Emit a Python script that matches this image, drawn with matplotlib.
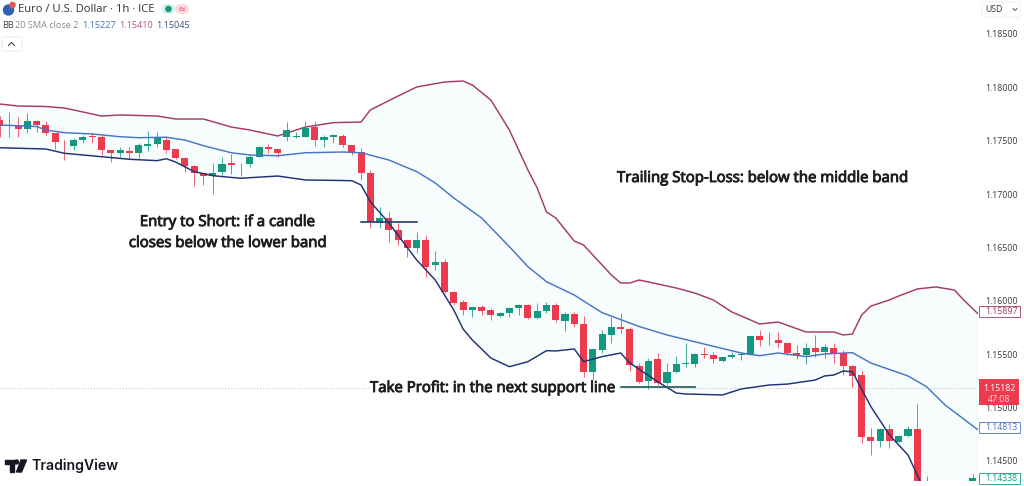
import numpy as np
import matplotlib
matplotlib.use("Agg")
import matplotlib.pyplot as plt
import matplotlib.patheffects as pe
from matplotlib.patches import Circle, FancyBboxPatch, Polygon, Rectangle

# EUR/USD 1h candles, one entry per bar, nan where the bar is off the chart
opens = [1.17694, 1.17647, 1.17635, 1.17612, 1.17687, 1.17644, 1.17569, 1.17462, 1.17453, 1.17504,
         1.17544, 1.17532, 1.17413, 1.17382, 1.17406, 1.17387, 1.17453, 1.17469, 1.17509, 1.17419,
         1.17335, 1.17266, 1.17200, 1.17172, 1.17204, 1.17288, 1.17279, 1.17279, 1.17350, 1.17441,
         1.17425, 1.17532, 1.17535, 1.17537, 1.17625, 1.17509, 1.17537, 1.17544, 1.17460, 1.17394,
         1.17197, 1.16729, 1.16779, 1.16663, 1.16570, 1.16498, 1.16570, 1.16336, 1.16366, 1.16082,
         1.15989, 1.15914, 1.15942, 1.15914, 1.15858, 1.15886, 1.15933, 1.15961, 1.15839, 1.15905,
         1.15961, 1.15811, 1.15876, 1.15783, 1.15333, 1.15539, 1.15680, 1.15755, 1.15736, 1.15389,
         1.15249, 1.15455, 1.15230, 1.15333, 1.15408, 1.15408, 1.15505, 1.15492, 1.15436, 1.15474,
         1.15492, 1.15492, 1.15670, 1.15630, 1.15633, 1.15605, 1.15511, 1.15492, 1.15558, 1.15520,
         1.15558, 1.15511, 1.15389, 1.15305, 1.14724, 1.14687, 1.14799, 1.14677, 1.14733, 1.14799,
         1.14228, np.nan, np.nan, np.nan, np.nan, 1.14250]
closes = [1.17638, 1.17638, 1.17612, 1.17687, 1.17647, 1.17569, 1.17490, 1.17457, 1.17506, 1.17537,
          1.17537, 1.17410, 1.17382, 1.17413, 1.17385, 1.17457, 1.17469, 1.17522, 1.17416, 1.17338,
          1.17266, 1.17200, 1.17172, 1.17200, 1.17282, 1.17275, 1.17284, 1.17344, 1.17441, 1.17425,
          1.17385, 1.17600, 1.17541, 1.17622, 1.17509, 1.17537, 1.17553, 1.17460, 1.17387, 1.17197,
          1.16738, 1.16779, 1.16663, 1.16570, 1.16498, 1.16570, 1.16317, 1.16366, 1.16082, 1.15979,
          1.15914, 1.15942, 1.15905, 1.15867, 1.15886, 1.15933, 1.15961, 1.15839, 1.15905, 1.15961,
          1.15820, 1.15876, 1.15783, 1.15333, 1.15549, 1.15689, 1.15755, 1.15736, 1.15399, 1.15239,
          1.15436, 1.15230, 1.15333, 1.15408, 1.15417, 1.15502, 1.15492, 1.15455, 1.15474, 1.15492,
          1.15502, 1.15670, 1.15633, 1.15636, 1.15605, 1.15511, 1.15492, 1.15558, 1.15520, 1.15567,
          1.15511, 1.15389, 1.15296, 1.14724, 1.14687, 1.14799, 1.14687, 1.14733, 1.14799, 1.14274,
          1.14100, np.nan, np.nan, np.nan, np.nan, 1.14338]
highs = [1.17731, 1.17769, 1.17722, 1.17760, 1.17694, 1.17687, 1.17572, 1.17506, 1.17525, 1.17553,
         1.17575, 1.17553, 1.17413, 1.17444, 1.17444, 1.17476, 1.17594, 1.17584, 1.17532, 1.17419,
         1.17350, 1.17272, 1.17200, 1.17294, 1.17344, 1.17375, 1.17288, 1.17366, 1.17453, 1.17466,
         1.17425, 1.17678, 1.17584, 1.17687, 1.17687, 1.17553, 1.17563, 1.17563, 1.17460, 1.17431,
         1.17225, 1.16879, 1.16832, 1.16729, 1.16570, 1.16645, 1.16617, 1.16469, 1.16392, 1.16092,
         1.16008, 1.15942, 1.15961, 1.15933, 1.15895, 1.15942, 1.15970, 1.15970, 1.15979, 1.15989,
         1.15979, 1.15895, 1.15895, 1.15858, 1.15549, 1.15727, 1.15848, 1.15886, 1.15755, 1.15417,
         1.15464, 1.15511, 1.15417, 1.15483, 1.15605, 1.15511, 1.15567, 1.15520, 1.15477, 1.15520,
         1.15520, 1.15670, 1.15727, 1.15708, 1.15708, 1.15605, 1.15586, 1.15605, 1.15680, 1.15595,
         1.15605, 1.15539, 1.15399, 1.15342, 1.14808, 1.14808, 1.14846, 1.14743, 1.14827, 1.15033,
         1.14359, np.nan, np.nan, np.nan, np.nan, 1.14377]
lows = [1.17535, 1.17535, 1.17535, 1.17572, 1.17581, 1.17553, 1.17422, 1.17319, 1.17413, 1.17478,
        1.17478, 1.17366, 1.17303, 1.17344, 1.17326, 1.17335, 1.17406, 1.17444, 1.17382, 1.17331,
        1.17210, 1.17076, 1.17085, 1.17001, 1.17179, 1.17188, 1.17172, 1.17256, 1.17344, 1.17382,
        1.17344, 1.17500, 1.17528, 1.17532, 1.17450, 1.17438, 1.17481, 1.17441, 1.17366, 1.17132,
        1.16682, 1.16682, 1.16551, 1.16523, 1.16410, 1.16448, 1.16223, 1.16289, 1.16073, 1.15961,
        1.15867, 1.15848, 1.15867, 1.15820, 1.15848, 1.15848, 1.15867, 1.15830, 1.15830, 1.15886,
        1.15801, 1.15717, 1.15755, 1.15286, 1.15258, 1.15511, 1.15605, 1.15698, 1.15342, 1.15230,
        1.15174, 1.15211, 1.15211, 1.15324, 1.15380, 1.15380, 1.15464, 1.15417, 1.15430, 1.15464,
        1.15446, 1.15492, 1.15577, 1.15586, 1.15558, 1.15492, 1.15455, 1.15408, 1.15474, 1.15464,
        1.15417, 1.15305, 1.15192, 1.14668, 1.14555, 1.14630, 1.14621, 1.14677, 1.14724, 1.14228,
        1.14000, np.nan, np.nan, np.nan, np.nan, 1.14200]

# Bollinger bands, read at the bars where the curve bends
upper_idx = [0, 2, 5, 7, 9, 11, 13, 17, 19, 22, 25, 27, 30, 33, 36, 39, 40, 43, 45, 48, 50, 51, 53, 55,
             56, 57, 58, 59, 60, 62, 63, 64, 65, 66, 67, 68, 69, 71, 73, 75, 77, 79, 82, 84, 87, 90,
             91, 92, 93, 94, 96, 97, 99, 101, 103, 104, 106]
upper_band = [1.17844, 1.17825, 1.17820, 1.17806, 1.17769, 1.17731, 1.17741, 1.17731, 1.17703, 1.17703,
              1.17628, 1.17600, 1.17544, 1.17628, 1.17669, 1.17675, 1.17788, 1.17919, 1.18003, 1.18050,
              1.18059, 1.18022, 1.17881, 1.17600, 1.17413, 1.17225, 1.17057, 1.16832, 1.16776, 1.16560,
              1.16523, 1.16429, 1.16336, 1.16242, 1.16167, 1.16167, 1.16195, 1.16158, 1.16120, 1.16073,
              1.16008, 1.15895, 1.15783, 1.15801, 1.15708, 1.15708, 1.15680, 1.15689, 1.15867, 1.15951,
              1.16008, 1.16045, 1.16111, 1.16130, 1.16101, 1.16008, 1.15842]
middle_idx = [0, 4, 5, 7, 10, 13, 15, 18, 20, 22, 25, 27, 30, 33, 37, 39, 42, 45, 47, 49, 52, 55, 57,
              59, 62, 65, 69, 72, 76, 80, 82, 84, 87, 89, 92, 94, 98, 100, 102, 106]
middle_band = [1.17647, 1.17633, 1.17600, 1.17575, 1.17563, 1.17537, 1.17528, 1.17532, 1.17506, 1.17453,
               1.17387, 1.17366, 1.17359, 1.17387, 1.17394, 1.17387, 1.17319, 1.17210, 1.17104, 1.16963,
               1.16776, 1.16507, 1.16320, 1.16179, 1.16054, 1.15889, 1.15759, 1.15680, 1.15595, 1.15511,
               1.15486, 1.15511, 1.15477, 1.15502, 1.15514, 1.15417, 1.15296, 1.15195, 1.15024, 1.14762]
lower_idx = [0, 5, 7, 14, 17, 18, 19, 21, 23, 26, 30, 33, 37, 38, 39, 40, 42, 45, 47, 49, 50, 51, 53,
             55, 57, 59, 60, 62, 63, 65, 67, 68, 71, 73, 74, 78, 80, 83, 85, 88, 89, 90, 91, 92, 94,
             96, 98, 99, 100, 106]
lower_band = [1.17434, 1.17422, 1.17382, 1.17326, 1.17313, 1.17331, 1.17300, 1.17210, 1.17172, 1.17148,
              1.17169, 1.17132, 1.17127, 1.17125, 1.17085, 1.16928, 1.16729, 1.16382, 1.16195, 1.15914,
              1.15736, 1.15633, 1.15464, 1.15383, 1.15430, 1.15533, 1.15530, 1.15549, 1.15430, 1.15477,
              1.15511, 1.15417, 1.15242, 1.15136, 1.15127, 1.15118, 1.15174, 1.15211, 1.15220, 1.15258,
              1.15296, 1.15305, 1.15342, 1.15336, 1.15008, 1.14743, 1.14555, 1.14368, 1.14181, 1.13900]

price_ticks = [1.145, 1.15, 1.155, 1.16, 1.165, 1.17, 1.175, 1.18, 1.185]
last_price = 1.15182
upper_last = 1.15897
middle_last = 1.14813
lower_last = 1.14338
entry_level = 1.16737
entry_bars = [39, 45]
target_level = 1.15194
target_bars = [67, 75]

RED = "#EE3A4E"
GREEN = "#13997F"
UPPER = "#A63A66"
MIDDLE = "#4A75C4"
LOWER = "#1F3370"

plt.rcParams["font.family"] = ["Open Sans", "DejaVu Sans"]

fig = plt.figure(figsize=(10.24, 4.86), dpi=100, facecolor="white")
ax = fig.add_axes([0, 5 / 486, 978 / 1024, 481 / 486])
ax.set_xlim(0.05, 105.55)
ax.set_ylim(1.14312, 1.18818)

o, c, h, l = [np.array(a) for a in (opens, closes, highs, lows)]
bars = np.arange(len(o))
up = c >= o
colors = np.where(up, GREEN, RED)

# shaded channel between the outer bands
channel = list(zip(upper_idx, upper_band)) + list(zip(lower_idx, lower_band))[::-1]
ax.add_patch(Polygon(channel, closed=True, facecolor="#F7FCFD", edgecolor="none", zorder=1))

ax.axhline(last_price, color="#B8B8B8", lw=0.7, ls=(0, (1, 2)), zorder=1.5)

ax.vlines(bars, l, h, colors=colors, lw=0.7, alpha=0.8, zorder=3)
ax.bar(bars, np.abs(c - o), bottom=np.minimum(o, c), width=0.76, color=colors, linewidth=0, zorder=3.5)

ax.plot(upper_idx, upper_band, color=UPPER, lw=1.05, zorder=2.5)
ax.plot(middle_idx, middle_band, color=MIDDLE, lw=1.05, zorder=4)
ax.plot(lower_idx, lower_band, color=LOWER, lw=1.05, zorder=4)

ax.plot(entry_bars, [entry_level] * 2, color="#1F3F78", lw=1.2, zorder=5)
ax.plot(target_bars, [target_level] * 2, color="#1C5A55", lw=1.2, zorder=5)

for s in ax.spines.values():
    s.set_visible(False)
ax.set_xticks([])
ax.yaxis.tick_right()
ax.set_yticks(price_ticks)
ax.set_yticklabels([f"{t:.5f}" for t in price_ticks], fontsize=6.3, color="#3A3A3A")
ax.tick_params(axis="y", length=0, pad=5)

# overlay in image pixels for the header, notes and axis tags
ov = fig.add_axes([0, 0, 1, 1], facecolor="none")
ov.set_xlim(0, 1024)
ov.set_ylim(486, 0)
ov.axis("off")

# header
ov.add_patch(Circle((8.5, 10), 5, color="#2F62B0"))
ov.add_patch(Circle((12.5, 5), 2.6, color="#E25A5A"))
ov.text(18, 9.5, "Euro / U.S. Dollar · 1h · ICE", fontsize=8.1, color="#333333", va="center")
ov.add_patch(FancyBboxPatch((162, 4), 13, 10, boxstyle="round,pad=0,rounding_size=5", fc="#D9F2EC", ec="none"))
ov.add_patch(FancyBboxPatch((175, 4), 14, 10, boxstyle="round,pad=0,rounding_size=5", fc="#FBDCE3", ec="none"))
ov.add_patch(Circle((168.5, 9), 2.6, color="#17997F"))
ov.text(182, 9, "≈", fontsize=7, color="#D9506A", ha="center", va="center", family="DejaVu Sans")
ov.text(2, 26, "BB", fontsize=6.6, color="#444444", va="center")
ov.text(15, 26, "20 SMA close 2", fontsize=6.6, color="#8A8A8A", va="center")
ov.text(82, 26, "1.15227", fontsize=6.6, color=MIDDLE, va="center")
ov.text(119, 26, "1.15410", fontsize=6.6, color="#B4528A", va="center")
ov.text(156, 26, "1.15045", fontsize=6.6, color="#3F5080", va="center")
ov.add_patch(FancyBboxPatch((2, 37), 20, 14, boxstyle="round,pad=0,rounding_size=1.5", fc="white", ec="#E6E6E6", lw=0.7))
ov.plot([8.5, 11.5, 14.5], [45.5, 42.5, 45.5], color="#444444", lw=0.8)

# top right currency selector
ov.add_patch(FancyBboxPatch((982, 2), 38, 15, boxstyle="round,pad=0,rounding_size=2", fc="white", ec="#F0F0F0", lw=0.7))
ov.text(985, 9.5, "USD", fontsize=6.3, color="#3A3A3A", va="center")
ov.plot([1013, 1015, 1017], [8.5, 10.5, 8.5], color="#555555", lw=0.7)

# notes on the chart, regular weight thickened a bit to get semibold
heavy = [pe.withStroke(linewidth=0.65, foreground="#1E1E1E")]
note_kw = dict(fontsize=10.78, color="#1E1E1E", va="center", path_effects=heavy)
ov.text(228, 222.5, "Entry to Short: if a candle", ha="center", **note_kw)
ov.text(228, 243.5, "closes below the lower band", ha="center", **note_kw)
ov.text(617, 178.5, "Trailing Stop-Loss: below the middle band", ha="left", **note_kw)
ov.text(370, 388.5, "Take Profit: in the next support line", ha="left",
        bbox=dict(fc="white", ec="none", pad=0.6), **note_kw)

# price tags on the axis
tag_half = 0.00052
tags = [(upper_last, UPPER), (middle_last, MIDDLE), (lower_last, GREEN)]
ytrans = ax.get_yaxis_transform()
for price, col in tags:
    ax.add_patch(Rectangle((1.0015, price - tag_half), 0.041, 2 * tag_half, transform=ytrans, fc="white",
                           ec=col, lw=0.6, clip_on=False, zorder=9))
    ax.text(1.0072, price, f"{price:.5f}", transform=ytrans, fontsize=6.3, color=col,
            va="center", ha="left", clip_on=False, zorder=10)
ov.add_patch(Rectangle((979, 379), 40, 26, fc=RED, ec="none"))
ov.text(999, 388, f"{last_price:.5f}", fontsize=6.3, color="white", ha="center", va="center")
ov.text(999, 399, "47:08", fontsize=6.3, color="#F8D8DC", ha="center", va="center")

# TradingView mark
ov.add_patch(Polygon([(5, 460), (13.5, 460), (13.5, 472), (9.5, 472), (9.5, 464), (5, 464)], color="#131722"))
ov.add_patch(Circle((16.5, 462), 2, color="#131722"))
ov.add_patch(Polygon([(21, 460), (26.5, 460), (21.5, 472), (16.5, 472)], color="#131722"))
ov.text(31, 466, "TradingView", fontsize=10.1, fontweight=600, family=["Inter", "DejaVu Sans"],
        color="#131722", va="center")

fig.savefig("out.png", dpi=100, facecolor="white")
